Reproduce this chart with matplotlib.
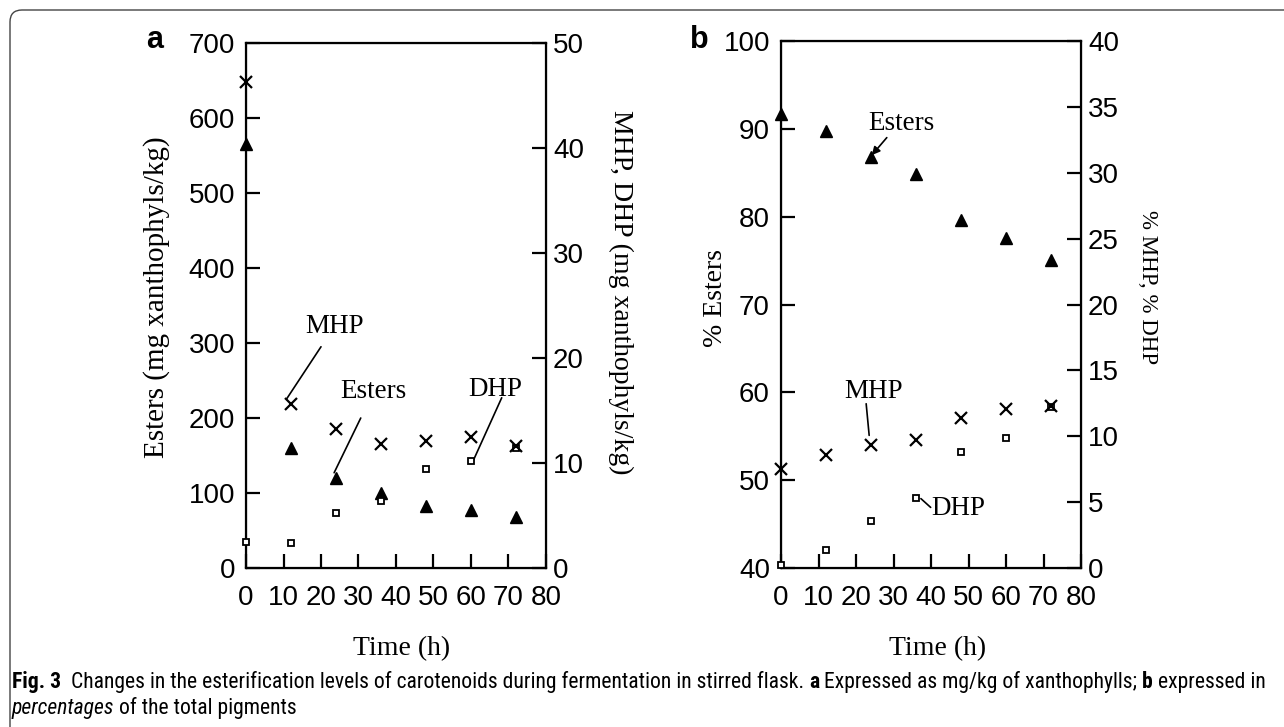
import numpy as np
import matplotlib
matplotlib.use("Agg")
import matplotlib.pyplot as plt
from matplotlib import font_manager
from matplotlib.patches import FancyBboxPatch
from matplotlib.transforms import IdentityTransform

plt.rcParams['font.family'] = 'Liberation Sans'

# ---- data
time_h = [0, 12, 24, 36, 48, 60, 72]

# panel a : mg xanthophylls / kg
esters_mg = [566, 160, 120, 100, 83, 78, 68]
mhp_mg = [46.3, 15.6, 13.2, 11.8, 12.1, 12.5, 11.6]
dhp_mg = [2.5, 2.4, 5.2, 6.4, 9.4, 10.2, 11.4]

# panel b : percentages of total pigments
esters_pct = [91.7, 89.8, 86.8, 84.9, 79.6, 77.6, 75.1]
mhp_pct = [7.5, 8.6, 9.3, 9.7, 11.4, 12.1, 12.3]
dhp_pct = [0.2, 1.4, 3.6, 5.3, 8.8, 9.9, 12.2]

x_ticks = np.arange(0, 81, 10)
serif = 'Liberation Serif'
W, H = 1284, 727


def style_axes(ax, tw):
    for sp in ax.spines.values():
        sp.set_linewidth(1.6)
    ax.set_xlim(0, 80)
    ax.set_xticks(x_ticks)
    ax.tick_params(axis='both', direction='in', length=10, width=1.6,
                   labelsize=20, pad=8)
    ax.tick_params(axis='x', top=False, pad=12)
    ax.tick_params(axis='y', right=False)
    tw.tick_params(axis='y', direction='in', length=10, width=1.6,
                   labelsize=20, pad=5, left=False)


def series(ax, tw, est, mhp, dhp):
    ax.plot(time_h, est, ls='none', marker='^', ms=9, color='black', clip_on=False, zorder=5)
    tw.plot(time_h, mhp, ls='none', marker='x', ms=9, mew=1.6, color='black', clip_on=False, zorder=5)
    tw.plot(time_h, dhp, ls='none', marker='s', ms=5, mfc='white', mec='black', mew=1.3,
            clip_on=False, zorder=4)


def note(ax, label, txt_xy, a, b, arrow='-'):
    ax.text(txt_xy[0], txt_xy[1], label, family=serif, fontsize=19.5,
            ha='center', va='center')
    ax.annotate('', xy=b, xytext=a,
                arrowprops=dict(arrowstyle=arrow, color='black', lw=1.2,
                                shrinkA=0, shrinkB=0, mutation_scale=12))


def label(px, py, s, rot=0, va='center', size=20):
    # axis titles placed in pixel positions of the figure
    fig.text(px / W, 1 - py / H, s, family=serif, fontsize=size, rotation=rot,
             ha='center', va=va)


fig = plt.figure(figsize=(W / 100, H / 100), dpi=100)

# ---------------- panel a
axa = fig.add_axes([0.1916, 0.2187, 0.2336, 0.7221])
twa = axa.twinx()
axa.set_ylim(0, 700)
axa.set_yticks(np.arange(0, 701, 100))
twa.set_ylim(0, 50)
twa.set_yticks(np.arange(0, 51, 10))
style_axes(axa, twa)
series(axa, twa, esters_mg, mhp_mg, dhp_mg)
note(axa, 'MHP', (23.7, 322), (20.0, 295), (10.9, 226))
note(axa, 'Esters', (34.1, 236), (30.6, 200), (23.5, 127))
note(axa, 'DHP', (66.4, 238), (68.2, 227), (60.5, 142))
fig.text(155 / W, 1 - 40 / H, 'a', fontsize=22, fontweight='bold',
         ha='center', va='center')
label(157, 297, 'Esters (mg xanthophyls/kg)', rot=90, size=21)
label(621, 292, 'MHP, DHP (mg xanthophyls/kg)', rot=270)
label(402, 655, 'Time (h)', va='baseline')

# ---------------- panel b
axb = fig.add_axes([0.6083, 0.2187, 0.2336, 0.7249])
twb = axb.twinx()
axb.set_ylim(40, 100)
axb.set_yticks(np.arange(40, 101, 10))
twb.set_ylim(0, 40)
twb.set_yticks(np.arange(0, 41, 5))
style_axes(axb, twb)
series(axb, twb, esters_pct, mhp_pct, dhp_pct)
note(axb, 'Esters', (32.1, 90.6), (28.2, 89.0), (24.2, 87.0), arrow='-|>')
note(axb, 'MHP', (24.8, 60.1), (22.7, 58.7), (23.5, 55.1))
note(axb, 'DHP', (47.3, 46.8), (37.3, 47.9), (39.9, 46.9))
fig.text(699 / W, 1 - 40 / H, 'b', fontsize=22, fontweight='bold',
         ha='center', va='center')
label(716, 298, '% Esters', rot=90)
label(1148, 287, '% MHP, % DHP', rot=270, size=16.5)
label(938, 655, 'Time (h)', va='baseline')

# ---------------- frame round the figure
frame = FancyBboxPatch((10, -30), 1320, 747, boxstyle='round,pad=0,rounding_size=12',
                       transform=IdentityTransform(), fill=False, ec='#444444', lw=1.0)
fig.patches.append(frame)

# ---------------- caption (mixed weights)
names = {f.name for f in font_manager.fontManager.ttflist}
cap_font = next(n for n in ['Liberation Sans Narrow', 'Roboto Condensed', 'Open Sans Condensed',
                            'Lato', 'Roboto', 'Open Sans', 'DejaVu Sans']
                if n in names)
line1 = [('Fig. 3', 'bold', 'normal'),
         ('  Changes in the esterification levels of carotenoids during fermentation in stirred flask. ',
          'normal', 'normal'),
         ('a', 'bold', 'normal'),
         (' Expressed as mg/kg of xanthophylls; ', 'normal', 'normal'),
         ('b', 'bold', 'normal'),
         (' expressed in', 'normal', 'normal')]
line2 = [('percentages', 'normal', 'italic'),
         (' of the total pigments', 'normal', 'normal')]

renderer = fig.canvas.get_renderer()


def draw_line(parts, x0, y, size):
    x = x0
    items = []
    for s, w, st in parts:
        t = fig.text(x, y, s, family=cap_font, fontsize=size, fontweight=w,
                     fontstyle=st, ha='left', va='baseline',
                     transform=IdentityTransform())
        bb = t.get_window_extent(renderer)
        x = bb.x1
        items.append(t)
    return items, x - x0


size = 14.5
items, width = draw_line(line1, 12, H - 688, size)
target = 1253
if width > target * 1.02 or width < target * 0.95:
    for t in items:
        t.remove()
    size = size * target / width
    items, width = draw_line(line1, 12, H - 688, size)
draw_line(line2, 12, H - 714, size)

fig.savefig('out.png', dpi=100)
